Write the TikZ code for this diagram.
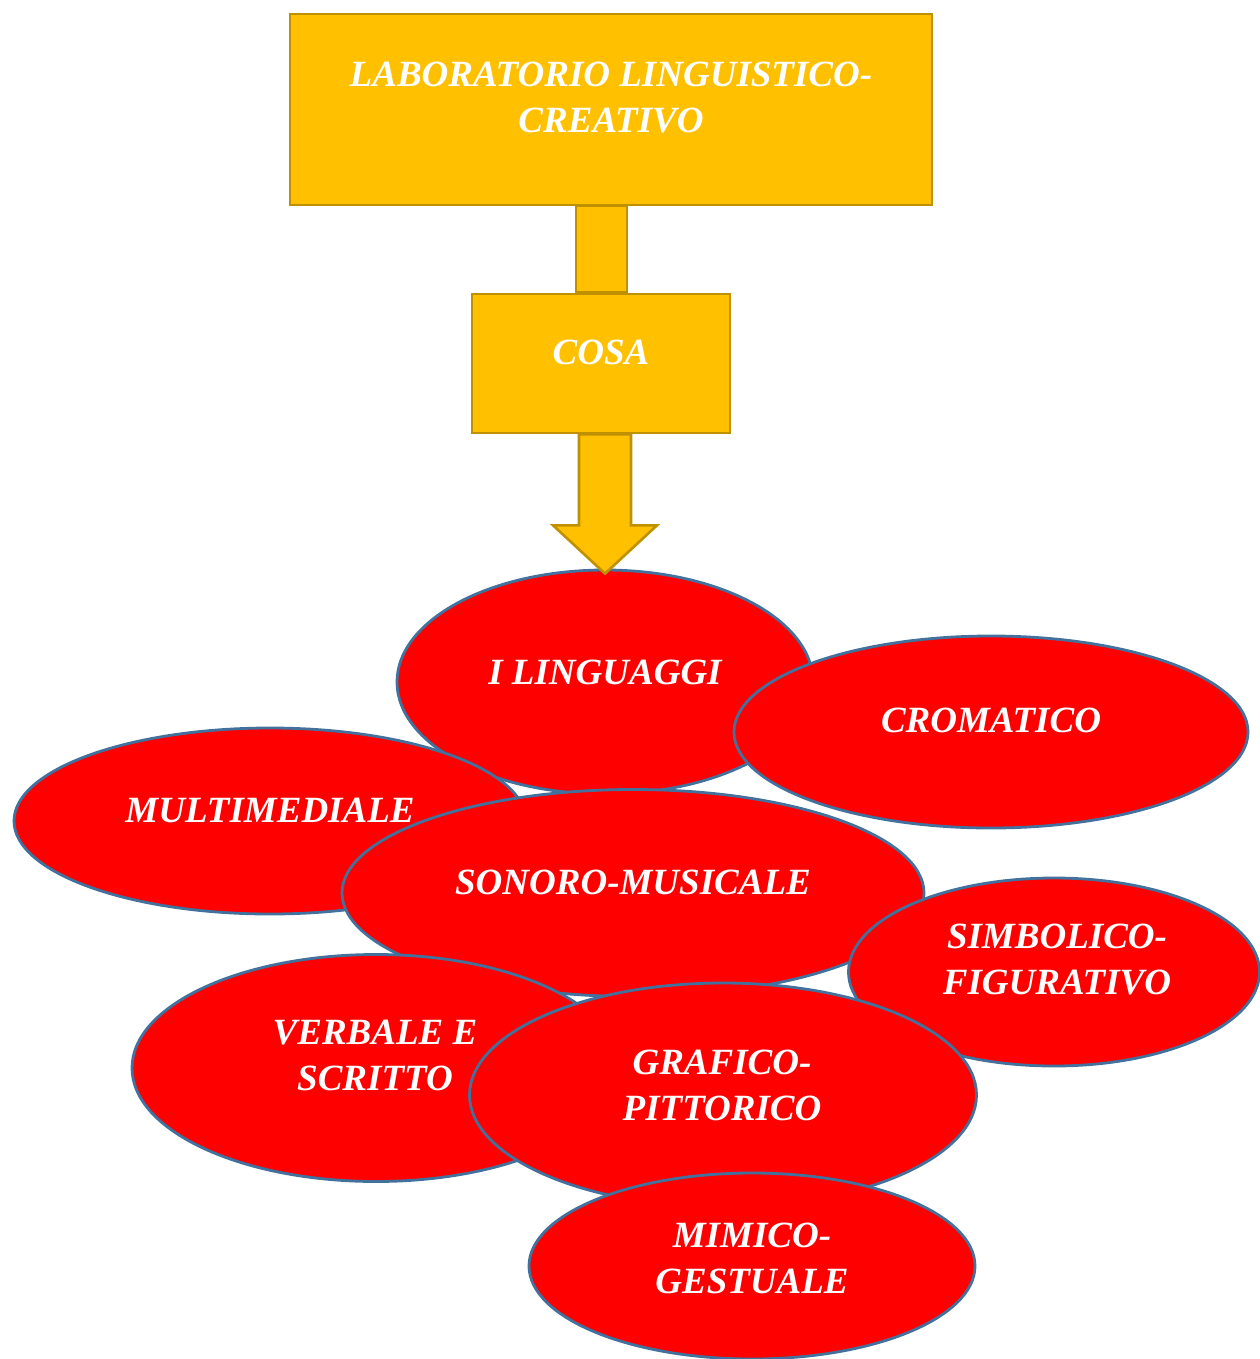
\documentclass[tikz,border=0pt]{standalone}
\usepackage{fontspec}
\setmainfont{Liberation Serif}
\usetikzlibrary{calc}
\usetikzlibrary{shapes.geometric}
\usetikzlibrary{backgrounds}

\definecolor{boxgold}{HTML}{FFC000}
\definecolor{boxedge}{HTML}{BF9000}
\definecolor{blobred}{HTML}{FF0000}
\definecolor{blobedge}{HTML}{41719C}

\tikzset{
 goldbox/.style={draw=boxedge, fill=boxgold, line width=2.6pt, inner sep=0},
 blob/.style={ellipse, draw=blobedge, fill=blobred, line width=2.8pt, inner sep=0},
 txt/.style={text=white, font=\fontsize{37}{46}\selectfont\bfseries\itshape, align=center, inner sep=0},
}

\begin{document}
\begin{tikzpicture}[x=1pt,y=-1pt]
\useasboundingbox (0,0) rectangle (1260,1359);
% boxes
\node[goldbox, minimum width=642, minimum height=191] (lab) at (611,109.5) {};
\node[txt] (labt) at (611,98) {LABORATORIO LINGUISTICO-\\CREATIVO};
\node[goldbox, minimum width=258, minimum height=139] (cosa) at (601,363.5) {};
\node[txt] (cosat) at (601,352) {COSA};
\begin{pgfonlayer}{background}
 \draw[goldbox] ($(lab.south -| cosa.north)+(-25,-1)$) rectangle ($(cosa.north)+(26,0)$);
\end{pgfonlayer}
% the languages
\node[blob, minimum width=416, minimum height=224] (ling) at (605,682) {};
\node[txt] (lingt) at (605,672) {I LINGUAGGI};
\node[blob, minimum width=514, minimum height=192] (crom) at (991,732) {};
\node[txt] (cromt) at (991,720) {CROMATICO};
\node[blob, minimum width=512, minimum height=186] (multi) at (270,821) {};
\node[txt] (multit) at (270,810) {MULTIMEDIALE};
\node[blob, minimum width=582, minimum height=207] (sono) at (633,893) {};
\node[txt] (sonot) at (633,882) {SONORO-MUSICALE};
\node[blob, minimum width=411, minimum height=188] (simb) at (1054,972) {};
\node[txt] (simbt) at (1057,960) {SIMBOLICO-\\FIGURATIVO};
\node[blob, minimum width=488, minimum height=227] (verb) at (376,1068) {};
\node[txt] (verbt) at (375,1055) {VERBALE E\\SCRITTO};
\node[blob, minimum width=507, minimum height=224] (graf) at (723,1095) {};
\node[txt] (graft) at (722,1085) {GRAFICO-\\PITTORICO};
\node[blob, minimum width=446, minimum height=186] (mimi) at (752,1266) {};
\node[txt] (mimit) at (752,1258) {MIMICO-\\GESTUALE};
% block arrow down
\coordinate (tip) at ($(ling.north)+(0,5)$);
\draw[goldbox, line join=miter] ($(cosa.south -| ling.north)+(-26,0)$) -- ++(0,91) -- ++(-26,0) -- (tip)
 -- ($(cosa.south -| ling.north)+(52,91)$) -- ++(-26,0) -- ($(cosa.south -| ling.north)+(26,0)$) -- cycle;
\end{tikzpicture}
\end{document}
